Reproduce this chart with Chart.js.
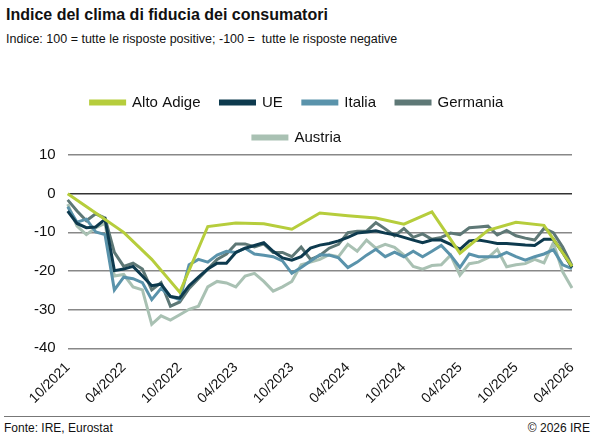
<!DOCTYPE html>
<html><head><meta charset="utf-8">
<script src="https://cdn.jsdelivr.net/npm/chart.js@4"></script>
<style>
body{margin:0;width:594px;height:438px;font-family:Arial,"Liberation Sans",sans-serif;background:#fff;overflow:hidden}
#t{position:absolute;left:6px;top:6px;font-weight:bold;font-size:16px;color:#111}
#s{position:absolute;left:6px;top:32px;font-size:12.5px;color:#111}
#c{position:absolute;left:0;top:75px}
#f{position:absolute;left:4px;right:4px;top:416px;border-top:1px solid #777;font-size:12px;color:#111;padding-top:4px}
#f span{float:right}
</style></head><body>
<div id="t">Indice del clima di fiducia dei consumatori</div>
<div id="s">Indice: 100 = tutte le risposte positive; -100 =&nbsp; tutte le risposte negative</div>
<div id="c"><canvas id="chart" width="594" height="335"></canvas></div>
<div id="f">Fonte: IRE, Eurostat<span>© 2026 IRE</span></div>
<script>
// mesi 10/2021 .. 04/2026
var months = [];
for (var i = 0; i < 55; i++) {
    var m = (9 + i) % 12 + 1, y = 2021 + Math.floor((9 + i) / 12);
    months.push((m < 10 ? '0' : '') + m + '/' + y);
}
var _ = null;
var altoAdige = [0,_,_,-5,_,_,-10,_,_,-17,_,_,-25.5,_,_,-8.5,_,_,-7.6,_,_,-7.8,_,_,-9.2,_,_,-5,_,_,-5.7,_,_,-6.3,_,_,-7.9,_,_,-4.7,_,_,-15.4,_,_,-9.5,_,_,-7.4,_,_,-8.2,_,_,-18.8];
var ue = [-4.5,-7.7,-8.8,-8.6,-6.6,-19.9,-19.5,-18.8,-21.3,-23.8,-23.4,-26.6,-27,-23.8,-21.6,-19.5,-18,-18,-15.2,-14.1,-13.4,-12.7,-14.9,-16.6,-17.2,-16.3,-14.1,-13.3,-12.9,-12.2,-11.3,-10.2,-9.9,-9.6,-10.2,-10.6,-11.3,-12,-12.7,-12,-12,-13.1,-14.4,-12.2,-12,-12.4,-12.9,-12.9,-13.1,-13.3,-13.4,-11.8,-11.8,-15.2,-19.1];
var italia = [-3.4,-7.4,-6.6,-9.9,-10.6,-24.9,-21.6,-22,-23,-27.4,-24.5,-26.6,-27.4,-18.4,-17,-17.7,-15.9,-14.9,-15.2,-14.1,-15.6,-15.9,-16.3,-17.4,-20.6,-19.1,-17.4,-15.8,-15.9,-16.6,-19.1,-17.7,-15.9,-14.4,-16.3,-15.1,-16.3,-14.9,-16.3,-14.9,-13.4,-15.9,-19.1,-15.6,-16.3,-16.3,-16.3,-15.2,-16.3,-17.2,-16.3,-15.6,-14.5,-18.4,-19.4];
var germania = [-1.6,-4.5,-7,-5.2,-6.3,-15.2,-18.8,-18,-19.5,-24.9,-23,-29.1,-28,-24.5,-22,-19.5,-17,-15.6,-13,-13,-13.8,-13,-15.2,-15.2,-16.3,-13.8,-17,-16,-14.1,-13.1,-10.1,-9.7,-9.7,-7.5,-9.1,-10.9,-9,-11.3,-10.4,-11.8,-11.3,-10.2,-10.6,-8.8,-8.6,-8.4,-10.7,-9.5,-10.9,-11.5,-12,-9,-10.1,-13.8,-18.6];
var austria = [-2.7,-8.4,-10.6,-8.8,-7.7,-21.3,-20.9,-24.1,-24.9,-33.8,-31.6,-32.7,-31.3,-29.9,-29.1,-24.1,-22.7,-23.1,-24.1,-21.3,-20.6,-22.7,-25.2,-24.1,-22.7,-18.4,-17.7,-17,-15.8,-16.3,-13.1,-14.9,-12,-14.1,-13.1,-13.9,-15.9,-18.8,-19.5,-18.6,-18.4,-15.9,-21.1,-18.1,-17.7,-16.6,-14.4,-18.9,-18.4,-18.1,-17,-17.9,-12.7,-20.2,-24.4];
var yTicks = [10, 0, -10, -20, -30, -40];

function ds(label, data, color) {
    return { label: label, data: data, borderColor: color, backgroundColor: color,
             borderWidth: 3, pointRadius: 0, spanGaps: true, tension: 0 };
}

new Chart(document.getElementById('chart').getContext('2d'), {
    type: 'line',
    data: {
        labels: months,
        datasets: [
            ds('Alto Adige', altoAdige, '#b6cd3c'),
            ds('UE', ue, '#0d3a4e'),
            ds('Italia', italia, '#5a93ab'),
            ds('Germania', germania, '#5e7876'),
            ds('Austria', austria, '#a9c1b3')
        ]
    },
    options: {
        responsive: false,
        animation: false,
        layout: { padding: { left: 22, right: 22, top: 0, bottom: 0 } },
        plugins: {
            legend: {
                position: 'top',
                labels: { boxWidth: 34, boxHeight: 3, color: '#111', font: { size: 15 }, padding: 20 }
            },
            tooltip: { enabled: false }
        },
        scales: {
            x: {
                grid: { display: false },
                border: { display: false },
                ticks: {
                    autoSkip: false, maxRotation: 45, minRotation: 45, color: '#111', font: { size: 14 },
                    callback: function (v, i) { return i % 6 === 0 ? months[i] : null; }
                }
            },
            y: {
                min: -40, max: 10,
                afterBuildTicks: function (s) { s.ticks = yTicks.map(function (v) { return { value: v }; }); },
                grid: { color: function (c) { return c.tick.value === 0 ? '#333' : '#888'; }, lineWidth: 1.5, drawTicks: false },
                border: { display: false },
                ticks: { color: '#111', font: { size: 15 }, padding: 12 }
            }
        }
    }
});
</script>
</body></html>
